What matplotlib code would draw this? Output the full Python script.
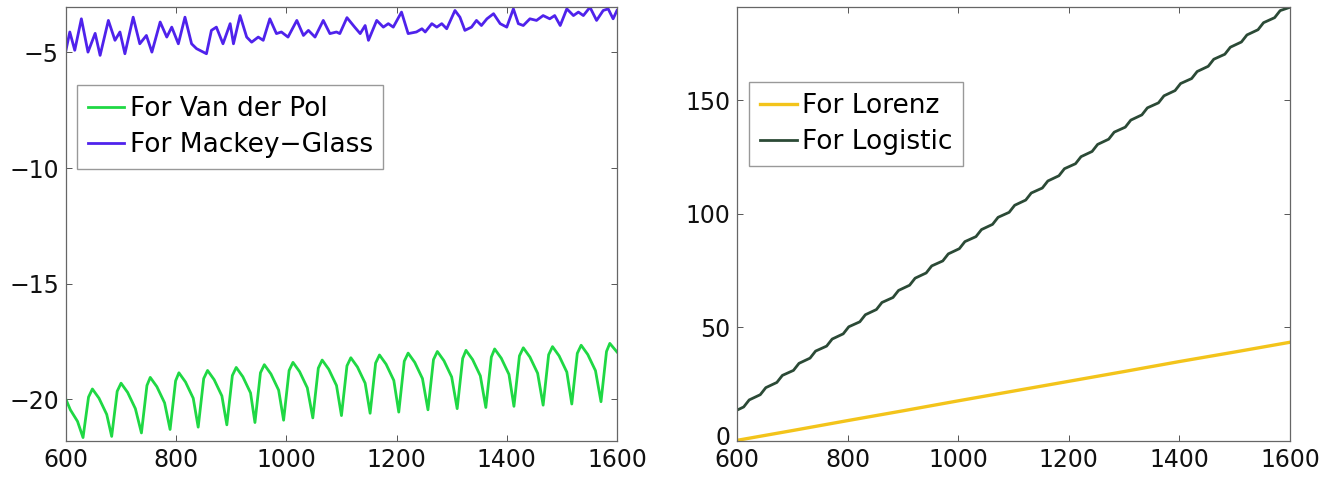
import numpy as np
import matplotlib
matplotlib.use('Agg')
from matplotlib import pyplot as plt
from matplotlib import transforms

# Van der Pol: key points read per cycle (start, troughs, rises, peaks, shoulders, knees, end)
vdp_start_x = [600, 608, 621]
vdp_start_y = [-20.0, -20.45, -20.95]
vdp_trough_x = [631, 683, 737, 789, 840, 892, 943, 995, 1048, 1100, 1152, 1204, 1257, 1310, 1362, 1413, 1466, 1518, 1571]
vdp_trough_y = [-21.65, -21.6, -21.45, -21.3, -21.2, -21.1, -21.0, -20.9, -20.8, -20.7, -20.6, -20.55, -20.45, -20.4,
                -20.35, -20.3, -20.25, -20.2, -20.1]
vdp_rise_x = [641, 693, 747, 799, 850, 902, 953, 1005, 1058, 1110, 1162, 1214, 1267, 1320, 1372, 1423, 1476, 1528, 1581]
vdp_rise_y = [-19.9, -19.65, -19.4, -19.2, -19.1, -18.97, -18.85, -18.75, -18.65, -18.55, -18.43, -18.35, -18.28,
              -18.23, -18.17, -18.12, -18.07, -18.01, -17.93]
vdp_peak_x = [648, 700, 753, 805, 857, 909, 960, 1012, 1065, 1117, 1169, 1221, 1274, 1326, 1378, 1430, 1483, 1535, 1587]
vdp_peak_y = [-19.55, -19.3, -19.05, -18.85, -18.75, -18.62, -18.5, -18.4, -18.3, -18.2, -18.08, -18.0, -17.93, -17.88,
              -17.82, -17.77, -17.72, -17.66, -17.58]
vdp_shoulder_x = [660, 712, 765, 817, 869, 921, 972, 1024, 1077, 1129, 1181, 1233, 1286, 1338, 1390, 1442, 1495, 1547]
vdp_shoulder_y = [-19.95, -19.7, -19.45, -19.25, -19.15, -19.02, -18.9, -18.8, -18.7, -18.6, -18.48, -18.4, -18.33,
                  -18.28, -18.22, -18.17, -18.12, -18.06]
vdp_knee_x = [674, 726, 779, 831, 883, 935, 986, 1038, 1091, 1143, 1195, 1247, 1300, 1352, 1404, 1456, 1509, 1561]
vdp_knee_y = [-20.65, -20.4, -20.15, -19.95, -19.85, -19.72, -19.6, -19.5, -19.4, -19.3, -19.18, -19.1, -19.03, -18.98,
              -18.92, -18.87, -18.82, -18.76]
vdp_end_x = [1600]
vdp_end_y = [-17.95]

# Mackey-Glass: turning points
mg_x = [600, 607, 616, 628, 640, 653, 662, 677, 689, 698,
        707, 722, 734, 746, 756, 771, 783, 792, 804, 816,
        828, 837, 855, 864, 873, 885, 898, 904, 916, 928,
        937, 949, 958, 970, 982, 991, 1003, 1019, 1031, 1040,
        1052, 1067, 1079, 1091, 1097, 1110, 1124, 1134, 1143, 1149,
        1164, 1176, 1185, 1194, 1209, 1221, 1236, 1246, 1252, 1264,
        1273, 1282, 1291, 1306, 1315, 1324, 1336, 1345, 1354, 1364,
        1376, 1388, 1400, 1412, 1421, 1430, 1442, 1454, 1466, 1478,
        1487, 1497, 1509, 1521, 1530, 1539, 1551, 1563, 1575, 1584,
        1593, 1600]
mg_y = [-4.91, -4.12, -4.91, -3.55, -4.99, -4.18, -5.13, -3.62, -4.48, -4.12,
        -5.06, -3.48, -4.63, -4.27, -4.99, -3.69, -4.34, -3.91, -4.63, -3.48,
        -4.63, -4.84, -5.06, -4.05, -3.91, -4.63, -3.76, -4.63, -3.41, -4.34,
        -4.56, -4.34, -4.48, -3.55, -4.19, -4.12, -4.34, -3.62, -4.27, -4.05,
        -4.34, -3.62, -4.19, -4.12, -4.19, -3.50, -3.91, -4.19, -3.84, -4.48,
        -3.62, -3.91, -3.76, -3.91, -3.26, -4.19, -4.12, -3.98, -4.12, -3.76,
        -3.91, -3.76, -3.98, -3.19, -3.48, -4.05, -3.91, -3.62, -3.84, -3.55,
        -3.33, -3.76, -3.91, -3.12, -3.76, -3.84, -3.55, -3.62, -3.41, -3.55,
        -3.41, -3.84, -3.12, -3.41, -3.26, -3.41, -3.05, -3.62, -3.19, -3.12,
        -3.55, -3.19]

# Logistic: notches and humps of the scalloped line
log_start_x = [600]
log_start_y = [13.6]
log_notch_x = [612, 642, 672, 702, 732, 762, 792, 822, 852, 882, 912, 942, 972, 1002, 1032, 1062, 1092, 1122, 1152,
               1182, 1212, 1242, 1272, 1302, 1332, 1362, 1392, 1422, 1452, 1482, 1512, 1542, 1572]
log_notch_y = [15.0, 20.4, 25.8, 31.1, 36.5, 41.8, 47.2, 52.5, 57.9, 63.2, 68.6, 74.0, 79.3, 84.7, 90.0, 95.4, 100.7,
               106.1, 111.4, 116.8, 122.1, 127.5, 132.9, 138.2, 143.6, 148.9, 154.3, 159.6, 165.0, 170.3, 175.7, 181.1,
               186.4]
log_hump_x = [622, 652, 682, 712, 742, 772, 802, 832, 862, 892, 922, 952, 982, 1012, 1042, 1072, 1102, 1132, 1162,
              1192, 1222, 1252, 1282, 1312, 1342, 1372, 1402, 1432, 1462, 1492, 1522, 1552, 1582]
log_hump_y = [18.1, 23.5, 28.9, 34.2, 39.6, 44.9, 50.3, 55.6, 61.0, 66.3, 71.7, 77.1, 82.4, 87.8, 93.1, 98.5, 103.8,
              109.2, 114.5, 119.9, 125.2, 130.6, 136.0, 141.3, 146.7, 152.0, 157.4, 162.7, 168.1, 173.4, 178.8, 184.2,
              189.5]
log_end_x = [1600]
log_end_y = [191.0]

# Lorenz
lor_x = [600, 700, 800, 900, 1000, 1100, 1200, 1300, 1400, 1500, 1600]
lor_y = [0.3, 4.6, 9.0, 13.3, 17.7, 22.0, 26.3, 30.6, 35.0, 39.2, 43.5]

x_ticks = [600, 800, 1000, 1200, 1400, 1600]
left_yticks = [-20, -15, -10, -5]
right_yticks = [0, 50, 100, 150]


def merge(*parts):
    xs = np.concatenate([np.asarray(p[0], float) for p in parts])
    ys = np.concatenate([np.asarray(p[1], float) for p in parts])
    order = np.argsort(xs)
    return xs[order], ys[order]


def style_axes(ax):
    ax.tick_params(direction='in', length=4, width=0.7, top=True, right=True, labelsize=17, pad=5,
                   color='#555555', labelcolor='#111111')
    for s in ax.spines.values():
        s.set_color('#666666')
        s.set_linewidth(0.9)


def add_legend(ax, anchor):
    leg = ax.legend(loc='upper left', bbox_to_anchor=anchor, fontsize=19, handlelength=1.4,
                    handletextpad=0.2, borderpad=0.4, labelspacing=0.4, fancybox=False, framealpha=1,
                    borderaxespad=0)
    leg.get_frame().set_edgecolor('#999999')
    leg.get_frame().set_linewidth(1.0)


def main():
    fig = plt.figure(figsize=(13.43, 4.82), dpi=100)
    ax1 = fig.add_axes([0.0491, 0.085, 0.4103, 0.900])
    ax2 = fig.add_axes([0.5488, 0.085, 0.4118, 0.900])

    vx, vy = merge((vdp_start_x, vdp_start_y), (vdp_trough_x, vdp_trough_y), (vdp_rise_x, vdp_rise_y),
                   (vdp_peak_x, vdp_peak_y), (vdp_shoulder_x, vdp_shoulder_y), (vdp_knee_x, vdp_knee_y),
                   (vdp_end_x, vdp_end_y))
    ax1.plot(vx, vy, color='#1fd844', lw=2.0, label='For Van der Pol')
    ax1.plot(mg_x, mg_y, color='#4f22ec', lw=2.0, label='For Mackey\u2212Glass')
    ax1.set_xlim(600, 1600)
    ax1.set_ylim(-21.8, -3.05)
    ax1.set_xticks(x_ticks)
    ax1.set_yticks(left_yticks)
    style_axes(ax1)
    add_legend(ax1, (0.02, 0.82))

    lx, ly = merge((log_start_x, log_start_y), (log_notch_x, log_notch_y), (log_hump_x, log_hump_y),
                   (log_end_x, log_end_y))
    ax2.plot(lor_x, lor_y, color='#f3c41b', lw=2.4, label='For Lorenz')
    ax2.plot(lx, ly, color='#2b4a36', lw=2.0, label='For Logistic')
    ax2.set_xlim(600, 1600)
    ax2.set_ylim(0, 191)
    ax2.set_xticks(x_ticks)
    ax2.set_yticks(right_yticks)
    style_axes(ax2)
    add_legend(ax2, (0.022, 0.827))

    # lift the "0" label a little so it clears the "600" below it
    zero = ax2.get_yticklabels()[0]
    zero.set_transform(zero.get_transform() + transforms.ScaledTranslation(0, 4 / 72, fig.dpi_scale_trans))

    fig.savefig('out.png', dpi=100)


if __name__ == '__main__':
    main()
